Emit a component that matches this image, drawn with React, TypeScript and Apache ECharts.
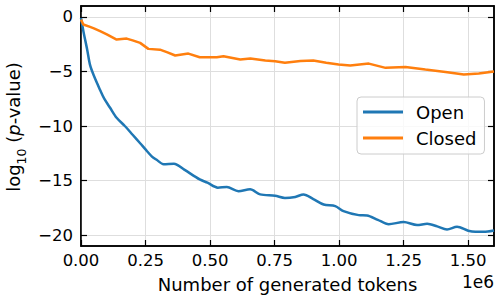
import React, { useEffect, useRef } from "react";
import * as echarts from "echarts";

const xTicks = [0, 250000, 500000, 750000, 1000000, 1250000, 1500000];
const yTicks = [-20, -15, -10, -5, 0];

const openX = [0, 0.01, 0.024, 0.035, 0.05, 0.074, 0.09, 0.112, 0.138, 0.17, 0.2, 0.23, 0.25, 0.275, 0.293, 0.32, 0.36, 0.4, 0.46, 0.49, 0.53, 0.565, 0.61, 0.655, 0.694, 0.752, 0.79, 0.83, 0.862, 0.9, 0.94, 0.985, 1.017, 1.076, 1.108, 1.15, 1.192, 1.25, 1.302, 1.341, 1.38, 1.418, 1.457, 1.5, 1.528, 1.56, 1.6];
const openY = [-0.1, -1.4, -3.0, -4.4, -5.4, -6.7, -7.5, -8.3, -9.25, -10.0, -10.8, -11.6, -12.15, -12.8, -13.1, -13.5, -13.45, -14.0, -14.9, -15.2, -15.65, -15.6, -15.97, -15.8, -16.27, -16.4, -16.6, -16.5, -16.27, -16.7, -17.2, -17.35, -17.8, -18.17, -18.2, -18.6, -19.0, -18.8, -19.08, -18.96, -19.2, -19.48, -19.23, -19.6, -19.7, -19.7, -19.57];

const closedX = [0, 0.009, 0.035, 0.05, 0.074, 0.1, 0.12, 0.138, 0.177, 0.2, 0.229, 0.261, 0.306, 0.335, 0.365, 0.416, 0.46, 0.526, 0.552, 0.617, 0.656, 0.714, 0.752, 0.79, 0.85, 0.9, 0.95, 0.998, 1.043, 1.115, 1.18, 1.257, 1.334, 1.412, 1.483, 1.541, 1.6];
const closedY = [-0.25, -0.7, -0.92, -1.05, -1.3, -1.6, -1.85, -2.08, -1.99, -2.15, -2.38, -2.93, -3.0, -3.25, -3.54, -3.36, -3.7, -3.7, -3.6, -3.9, -3.82, -4.0, -4.06, -4.2, -4.05, -4.0, -4.2, -4.37, -4.46, -4.28, -4.67, -4.6, -4.83, -5.04, -5.28, -5.19, -5.0];

const seriesNames = ["Open", "Closed"];
const colors = ["#1f77b4", "#ff7f0e"];

const FONT = "DejaVu Sans";

const fmtY = (v: number) => (v < 0 ? "\u2212" + Math.abs(v) : String(v));
const fmtX = (v: number) => (v / 1e6).toFixed(2);

export default function App() {
  const ref = useRef<HTMLDivElement>(null);
  useEffect(() => {
    if (!ref.current) return;
    const chart = echarts.init(ref.current, undefined, { renderer: "svg" });
    const openData = openX.map((x, i) => [x * 1e6, openY[i]]);
    const closedData = closedX.map((x, i) => [x * 1e6, closedY[i]]);
    const tick = { show: true, inside: true, length: 6, lineStyle: { color: "#000", width: 1.2 } };
    chart.setOption({
      animation: false,
      grid: { left: 81, right: 1, top: 6, bottom: 49, show: true, borderColor: "#000", borderWidth: 1.5, backgroundColor: "transparent" },
      legend: {
        orient: "vertical",
        left: 357,
        top: 97,
        data: seriesNames,
        icon: "rect",
        itemWidth: 40,
        itemHeight: 3,
        itemGap: 8,
        padding: [6, 8, 7, 6],
        backgroundColor: "rgba(255,255,255,0.8)",
        borderColor: "#cccccc",
        borderWidth: 1,
        borderRadius: 4,
        textStyle: { fontFamily: FONT, fontSize: 18, color: "#000", padding: [0, 0, 0, 8] },
      },
      xAxis: [
        {
          type: "value",
          min: 0,
          max: 1600000,
          position: "bottom",
          axisLine: { show: true, onZero: false, lineStyle: { color: "#000", width: 1.5 } },
          axisTick: { ...tick, customValues: xTicks },
          axisLabel: { customValues: xTicks, formatter: fmtX, fontFamily: FONT, fontSize: 16.5, color: "#000", margin: 6 },
          splitLine: { show: true, lineStyle: { color: "#dedede", width: 1 } },
        },
        {
          type: "value",
          min: 0,
          max: 1600000,
          position: "top",
          axisLine: { show: true, onZero: false, lineStyle: { color: "#000", width: 1.5 } },
          axisTick: { ...tick, customValues: xTicks },
          axisLabel: { show: false },
          splitLine: { show: false },
        },
      ],
      yAxis: [
        {
          type: "value",
          min: -21,
          max: 1,
          position: "left",
          axisLine: { show: true, onZero: false, lineStyle: { color: "#000", width: 1.5 } },
          axisTick: { ...tick, customValues: yTicks },
          axisLabel: { customValues: yTicks, formatter: fmtY, fontFamily: FONT, fontSize: 16.5, color: "#000", margin: 8 },
          splitLine: { show: true, lineStyle: { color: "#dedede", width: 1 } },
        },
        {
          type: "value",
          min: -21,
          max: 1,
          position: "right",
          axisLine: { show: true, onZero: false, lineStyle: { color: "#000", width: 1.5 } },
          axisTick: { ...tick, customValues: yTicks },
          axisLabel: { show: false },
          splitLine: { show: false },
        },
      ],
      series: [
        {
          name: seriesNames[0],
          type: "line",
          data: openData,
          symbol: "none",
          smooth: 0.3,
          color: colors[0],
          lineStyle: { color: colors[0], width: 2.5 },
          xAxisIndex: 0,
          yAxisIndex: 0,
        },
        {
          name: seriesNames[1],
          type: "line",
          data: closedData,
          symbol: "none",
          color: colors[1],
          lineStyle: { color: colors[1], width: 2.5 },
          xAxisIndex: 0,
          yAxisIndex: 0,
        },
      ],
      graphic: [
        {
          type: "text",
          x: 287.5,
          y: 284,
          style: { text: "Number of generated tokens", fontFamily: FONT, fontSize: 18, fill: "#000", align: "center", verticalAlign: "middle" },
        },
        {
          type: "text",
          x: 494,
          y: 282,
          style: { text: "1e6", fontFamily: FONT, fontSize: 17, fill: "#000", align: "right", verticalAlign: "middle" },
        },
        {
          type: "text",
          x: 16,
          y: 127,
          rotation: Math.PI / 2,
          style: {
            text: "{m|log}{s|10}{m| (}{i|p}{m|-value)}",
            fontFamily: FONT,
            fontSize: 18,
            fill: "#000",
            align: "center",
            verticalAlign: "middle",
            rich: {
              m: { fontFamily: FONT, fontSize: 18, fill: "#000", verticalAlign: "bottom", padding: [0, 0, 5, 0] },
              s: { fontFamily: FONT, fontSize: 12.5, fill: "#000", verticalAlign: "bottom" },
              i: { fontFamily: FONT, fontSize: 18, fontStyle: "italic", fill: "#000", verticalAlign: "bottom", padding: [0, 0, 5, 0] },
            },
          },
        },
      ],
    });
    return () => chart.dispose();
  }, []);
  return <div ref={ref} style={{ width: 495, height: 295, position: "absolute", left: 0, top: 0 }} />;
}
